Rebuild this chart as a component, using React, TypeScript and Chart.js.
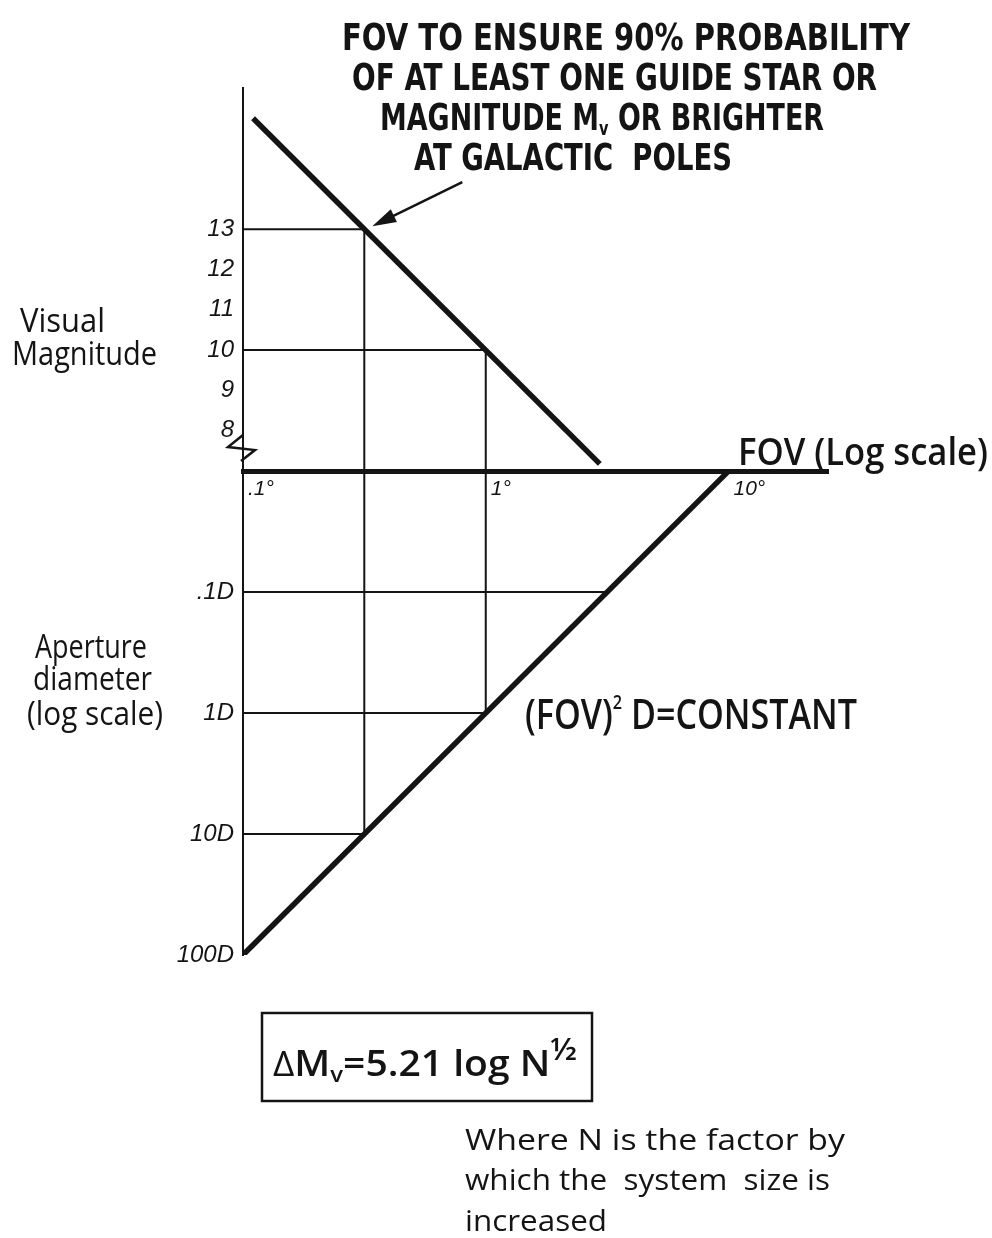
import { useEffect, useRef } from 'react';
import { Chart, registerables } from 'chart.js';

Chart.register(...registerables);

const W = 992;
const H = 1238;
const INK = '#141414';

// FOV axis (degrees, log scale)
const fovTicks = [0.1, 1, 10];
const fovTickLabels = ['.1°', '1°', '10°'];

// Visual magnitude ticks (upper half)
const magTicks = [13, 12, 11, 10, 9, 8];

// Aperture diameter ticks (lower half, log scale)
const apertureTicks = [0.1, 1, 10, 100];
const apertureTickLabels = ['.1D', '1D', '10D', '100D'];

// Limiting magnitude needed for the guide-star condition vs FOV
const starLineFov = [0.11, 2.95];
const starLineMag = [15.75, 7.18];

// (FOV)^2 D = constant
const apLineFov = [0.1, 10];
const apLineD = [100, 0.01];

// Construction lines: magnitude read-offs and their drops to the aperture line
const magGuideFov = [0.316, 1];
const magGuideMag = [13, 10];
const magGuideDropD = [10, 1];

// Construction lines: aperture read-offs
const apGuideFov = [3.16, 1, 0.316];
const apGuideD = [0.1, 1, 10];

// The vertical axis is shared: magnitudes above the FOV axis,
// log aperture below it (3 units per decade, 0.01D on the FOV axis).
const AXIS_Y = 7;
const UNITS_PER_DECADE = 3;
const D_AT_AXIS = 0.01;
const apY = (d: number) => AXIS_Y - UNITS_PER_DECADE * (Math.log10(d) - Math.log10(D_AT_AXIS));

const FOV_MIN = 0.1;
const FOV_MAX = 25.7;
const Y_MIN = -5;
const Y_MAX = 16.5;

type Pt = { x: number; y: number };

const TITLE = (s: number) =>
  `bold ${s}px "Liberation Sans Narrow", "DejaVu Sans Condensed", "Liberation Sans", sans-serif`;
const HAND = (s: number, w: string | number = 'normal') =>
  `${w} ${s}px "Open Sans", "Noto Sans", sans-serif`;
const TICK_FAMILY = '"Liberation Sans Narrow", "Liberation Sans", sans-serif';

type Run = { t: string; font: string; dy?: number };

function drawRuns(ctx: CanvasRenderingContext2D, runs: Run[], x: number, y: number, width?: number) {
  ctx.save();
  ctx.textBaseline = 'alphabetic';
  ctx.textAlign = 'left';
  const widths = runs.map((r) => {
    ctx.font = r.font;
    return ctx.measureText(r.t).width;
  });
  const total = widths.reduce((a, b) => a + b, 0);
  const sx = width ? width / total : 1;
  ctx.translate(x, y);
  ctx.scale(sx, 1);
  let cx = 0;
  runs.forEach((r, i) => {
    ctx.font = r.font;
    ctx.fillText(r.t, cx, r.dy || 0);
    cx += widths[i];
  });
  ctx.restore();
}

const near = (a: number, b: number) => Math.abs(a - b) < 1e-6 * Math.max(1, Math.abs(b));

const notesPlugin = {
  id: 'notes',
  afterDraw(chart: any) {
    const ctx: CanvasRenderingContext2D = chart.ctx;
    const xs = chart.scales.x;
    const ys = chart.scales.y;
    ctx.save();
    ctx.fillStyle = INK;
    ctx.strokeStyle = INK;

    // axis break mark on the magnitude axis
    const ox = xs.getPixelForValue(FOV_MIN);
    const oy = ys.getPixelForValue(AXIS_Y);
    ctx.lineWidth = 2.5;
    ctx.lineJoin = 'miter';
    ctx.beginPath();
    ctx.moveTo(ox, oy - 36);
    ctx.lineTo(ox - 15, oy - 24);
    ctx.lineTo(ox + 12, oy - 21);
    ctx.lineTo(ox - 2, oy - 10);
    ctx.stroke();

    // arrow to the magnitude-13 intersection
    const tipX = xs.getPixelForValue(magGuideFov[0]) + 8;
    const tipY = ys.getPixelForValue(magGuideMag[0]) - 3;
    const tailX = tipX + 90;
    const tailY = tipY - 44;
    const ang = Math.atan2(tipY - tailY, tipX - tailX);
    ctx.lineWidth = 2.5;
    ctx.beginPath();
    ctx.moveTo(tailX, tailY);
    ctx.lineTo(tipX - Math.cos(ang) * 15, tipY - Math.sin(ang) * 15);
    ctx.stroke();
    const hl = 24;
    const hw = 7;
    ctx.beginPath();
    ctx.moveTo(tipX, tipY);
    ctx.lineTo(tipX - Math.cos(ang) * hl - Math.sin(ang) * hw, tipY - Math.sin(ang) * hl + Math.cos(ang) * hw);
    ctx.lineTo(tipX - Math.cos(ang) * hl + Math.sin(ang) * hw, tipY - Math.sin(ang) * hl - Math.cos(ang) * hw);
    ctx.closePath();
    ctx.fill();

    // title note
    drawRuns(ctx, [{ t: 'FOV TO ENSURE 90% PROBABILITY', font: TITLE(37) }], 342, 50, 568);
    drawRuns(ctx, [{ t: 'OF AT LEAST ONE GUIDE STAR OR', font: TITLE(37) }], 352, 90, 525);
    drawRuns(
      ctx,
      [
        { t: 'MAGNITUDE M', font: TITLE(37) },
        { t: 'v', font: TITLE(20), dy: 5 },
        { t: ' OR BRIGHTER', font: TITLE(37) },
      ],
      380,
      130,
      444,
    );
    drawRuns(ctx, [{ t: 'AT GALACTIC  POLES', font: TITLE(37) }], 414, 170, 318);

    // axis titles
    drawRuns(ctx, [{ t: 'Visual', font: HAND(32) }], 20, 332, 85);
    drawRuns(ctx, [{ t: 'Magnitude', font: HAND(32) }], 12, 365, 145);
    drawRuns(ctx, [{ t: 'Aperture', font: HAND(32) }], 35, 658, 112);
    drawRuns(ctx, [{ t: 'diameter', font: HAND(32) }], 33, 690, 119);
    drawRuns(ctx, [{ t: '(log scale)', font: HAND(32) }], 27, 725, 136);
    drawRuns(ctx, [{ t: 'FOV (Log scale)', font: HAND(38, 600) }], 738, 465, 250);

    // aperture relation
    drawRuns(
      ctx,
      [
        { t: '(FOV)', font: HAND(42, 600) },
        { t: '2', font: HAND(20, 600), dy: -20 },
        { t: ' D=CONSTANT', font: HAND(42, 600) },
      ],
      525,
      729,
      332,
    );

    // boxed scaling law
    ctx.lineWidth = 2.5;
    ctx.strokeRect(262, 1013, 330, 88);
    drawRuns(
      ctx,
      [
        { t: 'Δ', font: HAND(34) },
        { t: 'M', font: HAND(36, 600) },
        { t: 'v', font: HAND(22, 600), dy: 6 },
        { t: '=5.21 log N', font: HAND(36, 600) },
        { t: '½', font: HAND(30, 600), dy: -16 },
      ],
      273,
      1076,
      304,
    );

    drawRuns(ctx, [{ t: 'Where N is the factor by', font: HAND(30) }], 465, 1150, 380);
    drawRuns(ctx, [{ t: 'which the  system  size is', font: HAND(30) }], 465, 1190, 365);
    drawRuns(ctx, [{ t: 'increased', font: HAND(30) }], 465, 1231, 142);

    ctx.restore();
  },
};

function segment(a: Pt, b: Pt, width: number) {
  return {
    data: [a, b],
    showLine: true,
    borderColor: INK,
    borderWidth: width,
    pointRadius: 0,
    borderCapStyle: 'butt' as const,
  };
}

export default function App() {
  const ref = useRef<HTMLCanvasElement | null>(null);

  useEffect(() => {
    if (!ref.current) return;

    const datasets: any[] = [];

    // thin construction lines
    magGuideFov.forEach((f, i) => {
      datasets.push(segment({ x: FOV_MIN, y: magGuideMag[i] }, { x: f, y: magGuideMag[i] }, 2));
      datasets.push(segment({ x: f, y: magGuideMag[i] }, { x: f, y: apY(magGuideDropD[i]) }, 2));
    });
    apGuideFov.forEach((f, i) => {
      datasets.push(segment({ x: FOV_MIN, y: apY(apGuideD[i]) }, { x: f, y: apY(apGuideD[i]) }, 2));
    });

    // heavy relation lines
    datasets.push(segment({ x: starLineFov[0], y: starLineMag[0] }, { x: starLineFov[1], y: starLineMag[1] }, 5.5));
    datasets.push(segment({ x: apLineFov[0], y: apY(apLineD[0]) }, { x: apLineFov[1], y: apY(apLineD[1]) }, 5.5));

    const yTickValues = [...magTicks, ...apertureTicks.map(apY)];
    const yTickLabels = [...magTicks.map(String), ...apertureTickLabels];

    const chart = new Chart(ref.current, {
      type: 'scatter',
      data: { datasets },
      options: {
        animation: false,
        responsive: false,
        devicePixelRatio: 1,
        layout: { padding: { left: 0, top: 88, right: W - 828, bottom: H - 955 } },
        plugins: { legend: { display: false }, tooltip: { enabled: false } },
        scales: {
          x: {
            type: 'logarithmic',
            min: FOV_MIN,
            max: FOV_MAX,
            position: { y: AXIS_Y } as any,
            grid: { display: false, drawTicks: false },
            border: { display: true, width: 5, color: INK },
            afterBuildTicks: (s: any) => {
              s.ticks = fovTicks.map((v) => ({ value: v }));
            },
            ticks: {
              autoSkip: false,
              maxRotation: 0,
              align: 'start',
              labelOffset: 5,
              padding: 5,
              color: INK,
              font: { family: TICK_FAMILY, style: 'italic', size: 21 },
              callback: (v: any) => {
                const i = fovTicks.findIndex((t) => near(t, Number(v)));
                return i >= 0 ? fovTickLabels[i] : '';
              },
            },
          },
          y: {
            type: 'linear',
            min: Y_MIN,
            max: Y_MAX,
            afterFit: (s: any) => {
              s.width = 243;
            },
            grid: { display: false, drawTicks: false },
            border: { display: true, width: 2, color: INK },
            afterBuildTicks: (s: any) => {
              s.ticks = yTickValues.map((v) => ({ value: v }));
            },
            ticks: {
              autoSkip: false,
              padding: 9,
              color: INK,
              font: { family: TICK_FAMILY, style: 'italic', size: 24 },
              callback: (v: any) => {
                const i = yTickValues.findIndex((t) => near(t, Number(v)));
                return i >= 0 ? yTickLabels[i] : '';
              },
            },
          },
        },
      },
      plugins: [notesPlugin],
    });

    return () => chart.destroy();
  }, []);

  return (
    <div style={{ position: 'absolute', left: 0, top: 0, width: W, height: H, background: '#fff' }}>
      <canvas ref={ref} width={W} height={H} style={{ display: 'block' }} />
    </div>
  );
}
